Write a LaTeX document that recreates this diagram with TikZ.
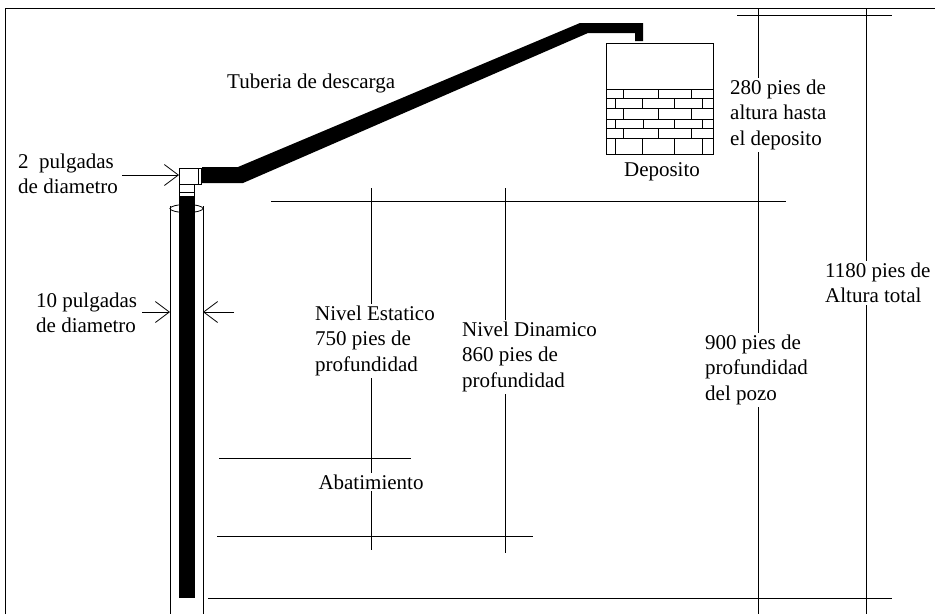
\documentclass[tikz,border=0pt]{standalone}
\usepackage{fontspec}
\setmainfont{Liberation Serif}
\usetikzlibrary{arrows.meta}
\begin{document}
\begin{tikzpicture}[x=1pt,y=-1pt,
  guide/.style={line width=0.9pt},
  labeltext/.style={font=\fontsize{21}{25.7}\selectfont, align=left, anchor=north west, inner sep=1.5pt, fill=white},
  centretext/.style={font=\fontsize{21}{25.7}\selectfont, anchor=center, inner sep=1.5pt, fill=white},
  barb/.style={-{Straight Barb[length=14pt,width=21pt,line width=0.8pt]}, line width=0.9pt},
  brick/.style={line width=0.8pt},
]
\useasboundingbox (0,0) rectangle (935,614);
\fill[white] (0,0) rectangle (935,614);

% outer frame (top and left edges)
\draw[guide] (5,614) -- (5,8) -- (935,8);

% level and dimension lines
\draw[guide] (737,15) -- (892,15);
\draw[guide] (271,201) -- (786,201);
\draw[guide] (219,458) -- (411,458);
\draw[guide] (217,536) -- (533,536);
\draw[guide] (208,598) -- (892,598);
\draw[guide] (371,188) -- (371,550);
\draw[guide] (505,188) -- (505,553);
\draw[guide] (758,8) -- (758,614);
\draw[guide] (866,8) -- (866,614);

% well casing (10 in)
\draw[guide] (170,206) -- (170,614);
\draw[guide] (203,206) -- (203,614);
\draw[line width=0.8pt] (186.5,208.5) ellipse [x radius=16.5pt, y radius=4pt];

% column pipe inside the casing
\fill[black] (179,196) rectangle (195,598);

% tee fitting at the well head
\draw[line width=0.8pt, fill=white] (179,168) rectangle (201,184);
\draw[line width=0.8pt] (198,168) -- (198,184);
\draw[line width=0.8pt, fill=white] (179,184) rectangle (194,196);
\draw[line width=0.8pt] (179,192) -- (194,192);

% discharge pipe up to the tank
\fill[black] (202,167) -- (238,167) -- (580,23) -- (643,23) -- (643,41)
  -- (635,41) -- (635,33) -- (588,33) -- (243,183) -- (202,183) -- cycle;

% tank with brick base
\draw[brick] (606,43) rectangle (713,154);
\foreach \yy in {89,98.5,108.5,119,128.5,138.5}
  \draw[brick] (606,\yy) -- (713,\yy);
\foreach \ya/\yb/\xs in {89/98.5/{623,658,691}, 98.5/108.5/{615,642,674,702},
    108.5/119/{623,658,691}, 119/128.5/{615,643,674,702},
    128.5/138.5/{623,658,691}, 138.5/154/{615,642,674,702}}
  \foreach \xx in \xs \draw[brick] (\xx,\ya) -- (\xx,\yb);

% dimension arrows
\coordinate (twoTail) at (122,175);
\coordinate (teeLeft) at (179,175);
\coordinate (tenLeftTail) at (142,312);
\coordinate (casingLeft) at (170,312);
\coordinate (tenRightTail) at (234,312);
\coordinate (casingRight) at (203,312);
\draw[barb] (twoTail) -- (teeLeft);
\draw[barb] (tenLeftTail) -- (casingLeft);
\draw[barb] (tenRightTail) -- (casingRight);

% labels
\node[labeltext] (twoIn) at (16.5,152) {2~~pulgadas\\de diametro};
\node[labeltext] (tenIn) at (34.5,291) {10 pulgadas\\de diametro};
\node[labeltext] (pipeLbl) at (225.5,72) {Tuberia de descarga};
\node[centretext] (tankLbl) at (662,172) {Deposito};
\node[labeltext] (tankHeight) at (728.5,78) {280 pies de\\altura hasta\\el deposito};
\node[labeltext] (staticLvl) at (313.5,304) {Nivel Estatico\\750 pies de\\profundidad};
\node[labeltext] (dynLvl) at (460.5,320) {Nivel Dinamico\\860 pies de\\profundidad};
\node[labeltext] (totalHeight) at (823.5,261) {1180 pies de\\Altura total};
\node[labeltext] (wellDepth) at (703.5,333) {900 pies de\\profundidad\\del pozo};
\node[centretext] (drawdown) at (371,482) {Abatimiento};
\end{tikzpicture}
\end{document}
